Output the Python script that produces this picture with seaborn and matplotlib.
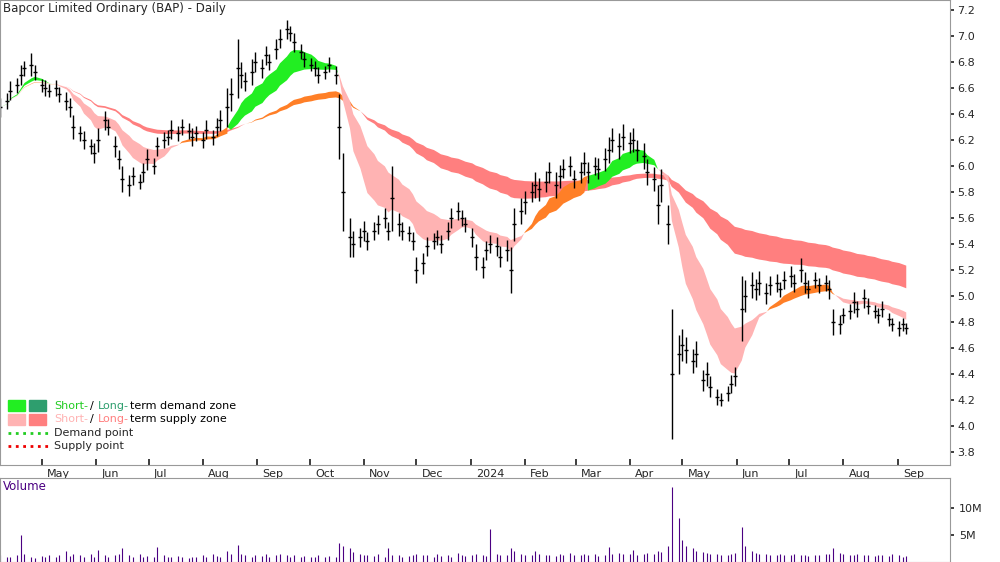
import seaborn as sns
import numpy as np
import pandas as pd
import matplotlib.pyplot as plt
from matplotlib.patches import Rectangle

# closes, one bar per two trading days
close = [6.45, 6.5, 6.58, 6.62, 6.7, 6.75, 6.78, 6.72, 6.62, 6.6, 6.58, 6.6,
         6.55, 6.5, 6.45, 6.3, 6.25, 6.2, 6.15, 6.1, 6.2, 6.35, 6.3, 6.15, 6.05, 5.9,
         5.85, 5.92, 5.88, 5.95, 6.05, 6.0, 6.15, 6.2, 6.22, 6.28, 6.25, 6.3, 6.27, 6.22,
         6.25, 6.2, 6.28, 6.22, 6.3, 6.35, 6.45, 6.55, 6.75, 6.7, 6.65, 6.72, 6.8, 6.75,
         6.85, 6.8, 6.9, 6.98, 7.05, 7.02, 6.95, 6.88, 6.82, 6.78, 6.75, 6.7, 6.72, 6.78, 6.7,
         6.3, 5.8, 5.45, 5.4, 5.45, 5.5, 5.42, 5.5, 5.55, 5.6, 5.5, 5.75, 5.55, 5.5, 5.48, 5.42,
         5.2, 5.25, 5.38, 5.42, 5.45, 5.4, 5.5, 5.6, 5.65, 5.6, 5.55, 5.45, 5.3, 5.22,
         5.35, 5.4, 5.38, 5.3, 5.35, 5.2, 5.55, 5.65, 5.72, 5.8, 5.85, 5.82, 5.88, 5.95, 5.85,
         5.92, 5.98, 6.0, 5.9, 5.95, 6.02, 5.95, 6.0, 5.98, 6.05, 6.12, 6.2, 6.15, 6.22,
         6.18, 6.2, 6.12, 6.08, 5.95, 5.9, 5.7, 5.85, 5.55, 4.4, 4.55, 4.62, 4.58, 4.5, 4.55,
         4.35, 4.4, 4.3, 4.22, 4.2, 4.25, 4.32, 4.38, 4.9, 5.0, 5.08, 5.05, 5.1, 5.02, 5.08,
         5.1, 5.05, 5.12, 5.15, 5.1, 5.2, 5.1, 5.05, 5.12, 5.08, 5.1, 5.05, 4.8, 4.78, 4.85,
         4.88, 4.95, 4.9, 4.98, 4.92, 4.88, 4.85, 4.9, 4.82, 4.78, 4.75, 4.78, 4.75]

# high-low range of each bar
bar_range = [0.15, 0.12, 0.14, 0.12, 0.16, 0.12, 0.18, 0.12, 0.1, 0.12, 0.1, 0.12,
             0.12, 0.14, 0.15, 0.18, 0.12, 0.14, 0.12, 0.15, 0.18, 0.14, 0.12, 0.16, 0.14, 0.2,
             0.16, 0.14, 0.12, 0.14, 0.16, 0.12, 0.14, 0.12, 0.12, 0.14, 0.12, 0.12, 0.12, 0.14,
             0.12, 0.12, 0.14, 0.12, 0.14, 0.16, 0.3, 0.25, 0.45, 0.2, 0.15, 0.2, 0.15, 0.14,
             0.15, 0.12, 0.16, 0.15, 0.14, 0.12, 0.14, 0.12, 0.12, 0.1, 0.12, 0.12, 0.1, 0.12, 0.14,
             0.5, 0.6, 0.3, 0.2, 0.15, 0.15, 0.14, 0.14, 0.15, 0.16, 0.14, 0.5, 0.18, 0.14, 0.12, 0.14,
             0.2, 0.16, 0.14, 0.12, 0.12, 0.14, 0.14, 0.16, 0.14, 0.12, 0.12, 0.15, 0.2, 0.16,
             0.15, 0.14, 0.14, 0.16, 0.16, 0.35, 0.25, 0.2, 0.18, 0.16, 0.2, 0.18, 0.16, 0.16, 0.2,
             0.18, 0.15, 0.16, 0.14, 0.16, 0.18, 0.16, 0.14, 0.16, 0.18, 0.2, 0.18, 0.2, 0.2,
             0.16, 0.18, 0.16, 0.2, 0.2, 0.18, 0.3, 0.25, 0.3, 1.0, 0.3, 0.25, 0.2, 0.18, 0.2,
             0.16, 0.18, 0.16, 0.12, 0.1, 0.12, 0.14, 0.14, 0.5, 0.25, 0.2, 0.16, 0.18, 0.16, 0.14,
             0.14, 0.12, 0.14, 0.16, 0.14, 0.18, 0.16, 0.14, 0.12, 0.12, 0.12, 0.15, 0.2, 0.14, 0.12,
             0.12, 0.16, 0.12, 0.14, 0.12, 0.1, 0.12, 0.12, 0.1, 0.1, 0.12, 0.1, 0.08]

# volume, millions
volume = [1.2, 0.9, 1.0, 1.3, 5.0, 1.4, 1.0, 0.8, 1.1, 0.9, 1.2, 1.0,
          1.3, 2.0, 1.1, 1.5, 1.2, 0.9, 1.4, 1.0, 2.2, 1.2, 1.0, 1.3, 1.5, 2.5,
          1.2, 1.0, 1.4, 0.9, 1.1, 1.0, 2.8, 1.2, 1.0, 0.9, 1.1, 1.0, 0.8, 1.0,
          0.9, 1.2, 1.0, 1.4, 1.1, 1.0, 2.0, 1.5, 3.2, 1.5, 1.2, 1.0, 1.3, 1.1,
          1.4, 1.0, 1.2, 1.5, 1.3, 1.0, 1.2, 1.0, 1.1, 0.9, 1.0, 1.2, 0.9, 1.1, 1.0,
          3.5, 3.0, 2.5, 1.8, 1.5, 1.3, 1.2, 1.1, 1.4, 1.0, 2.5, 1.3, 1.2, 1.0, 1.1, 1.2,
          1.5, 1.3, 1.2, 1.0, 1.4, 1.1, 1.2, 1.0, 1.6, 1.2, 1.1, 1.3, 1.5, 1.2,
          1.1, 6.0, 1.5, 1.2, 1.3, 2.5, 2.0, 1.5, 1.3, 1.2, 2.0, 1.5, 1.2, 1.3, 1.1,
          1.4, 1.2, 1.6, 1.2, 1.3, 1.5, 1.2, 1.4, 1.1, 1.3, 2.8, 1.5, 1.6, 1.4,
          1.5, 2.2, 1.3, 1.4, 1.6, 1.5, 2.0, 1.8, 3.0, 13.8, 8.0, 4.0, 3.0, 2.5, 2.0,
          1.8, 1.6, 1.5, 1.4, 1.2, 1.3, 1.5, 1.6, 6.5, 3.0, 2.0, 1.6, 1.5, 1.4, 1.3,
          1.2, 1.5, 1.3, 1.2, 1.4, 1.3, 1.2, 1.1, 1.3, 1.2, 1.4, 1.5, 2.5, 1.6, 1.4,
          1.3, 1.2, 1.5, 1.3, 1.2, 1.1, 1.3, 1.2, 1.1, 1.4, 1.2, 1.0, 1.1]

dates = pd.bdate_range('2023-04-07', periods=2 * len(close))[::2]
df = pd.DataFrame({'date': dates, 'close': close, 'rng': bar_range, 'vol': volume})
df['high'] = df['close'] + df['rng'] * 0.5
df['low'] = df['close'] - df['rng'] * 0.5

# indicator ribbons (EMA pairs)
s_fast = df['close'].ewm(span=9).mean()
s_slow = df['close'].ewm(span=20).mean()
l_fast = df['close'].ewm(span=60).mean()
l_slow = df['close'].ewm(span=100).mean()

sns.set_theme(style='white')
plt.rcParams['font.family'] = ['DejaVu Sans']
fig = plt.figure(figsize=(10, 5.62), dpi=100)
ax = fig.add_axes([0, 0.173, 0.95, 0.827])
axv = fig.add_axes([0, 0.0, 0.95, 0.15], sharex=ax)

x = df['date']
l_up = l_fast > l_slow
ax.fill_between(x, l_fast, l_slow, where=~l_up, color='#ff7f7f', lw=0, interpolate=True)
ax.fill_between(x, l_fast, l_slow, where=l_up, color='#ff7f27', lw=0, interpolate=True)
s_up = s_fast > s_slow
s_above = s_up & (s_slow > l_fast)
ax.fill_between(x, s_fast, s_slow, where=~s_up, color='#ffb3b3', lw=0, interpolate=True)
ax.fill_between(x, s_fast, s_slow, where=s_up & ~s_above, color='#ff7f27', lw=0, interpolate=True)
ax.fill_between(x, s_fast, s_slow, where=s_above, color='#22ee22', lw=0, interpolate=True)

ax.vlines(x, df['low'], df['high'], color='black', lw=1)
sns.scatterplot(data=df, x='date', y='close', marker='_', s=12, color='black',
                linewidth=1, ax=ax, legend=False)

ax.set_ylim(3.7, 7.277)
ax.set_xlim(pd.Timestamp('2023-04-07'), pd.Timestamp('2024-10-01'))
ax.yaxis.tick_right()
yt = np.arange(3.8, 7.21, 0.2)
ax.set_yticks(yt)
ax.set_yticklabels([f'{v:.1f}' for v in yt], fontsize=8)
ax.set_xlabel('')
ax.set_ylabel('')
ax.tick_params(axis='y', length=3, pad=2, right=True)

months = pd.date_range('2023-05-01', '2024-09-01', freq='MS')
ax.set_xticks(months)
ax.set_xticklabels([])
ax.tick_params(axis='x', length=4, direction='in', bottom=True)
for m in months:
    lab = '2024' if m.month == 1 else m.strftime('%b')
    ax.text(m + pd.Timedelta(days=3), 3.67, lab, fontsize=8, ha='left', va='top', clip_on=False)

ax.text(0.003, 0.995, 'Bapcor Limited Ordinary (BAP) - Daily', transform=ax.transAxes,
        fontsize=8.5, va='top')

# legend
items = [(0.127, ['#22ee22', '#2e9e6e'], 'term demand zone', '#22cc22', '#2e9e6e'),
         (0.098, ['#ffb3b3', '#ff7f7f'], 'term supply zone', '#ffb3b3', '#ff7f7f')]
for yy, cols, tail, ca, cc in items:
    for k, col in enumerate(cols):
        ax.add_patch(Rectangle((0.008 + k * 0.022, yy - 0.012), 0.018, 0.024,
                               transform=ax.transAxes, color=col))
    ax.text(0.057, yy, 'Short-', color=ca, fontsize=8, transform=ax.transAxes, va='center')
    ax.text(0.095, yy, '/', color='black', fontsize=8, transform=ax.transAxes, va='center')
    ax.text(0.103, yy, 'Long-', color=cc, fontsize=8, transform=ax.transAxes, va='center')
    ax.text(0.137, yy, tail, color='black', fontsize=8, transform=ax.transAxes, va='center')
for yy, col, lab in [(0.069, '#22cc22', 'Demand point'), (0.040, '#ee0000', 'Supply point')]:
    ax.plot([0.008, 0.05], [yy, yy], ls=':', lw=2, color=col, transform=ax.transAxes)
    ax.text(0.057, yy, lab, fontsize=8, transform=ax.transAxes, va='center')

axv.vlines(x, 0, df['vol'], color='#4b0082', lw=0.8)
axv.set_ylim(0, 15.5)
axv.yaxis.tick_right()
axv.set_yticks([5, 10])
axv.set_yticklabels(['5M', '10M'], fontsize=8)
axv.tick_params(axis='x', bottom=False, labelbottom=False)
axv.tick_params(axis='y', right=True, length=3)
axv.set_xlabel('')
axv.text(0.003, 0.97, 'Volume', color='#4b0082', fontsize=8.5, transform=axv.transAxes, va='top')

for a_ in (ax, axv):
    for sp in a_.spines.values():
        sp.set_color('#999999')
        sp.set_linewidth(0.8)

fig.savefig('out.png', dpi=100)
